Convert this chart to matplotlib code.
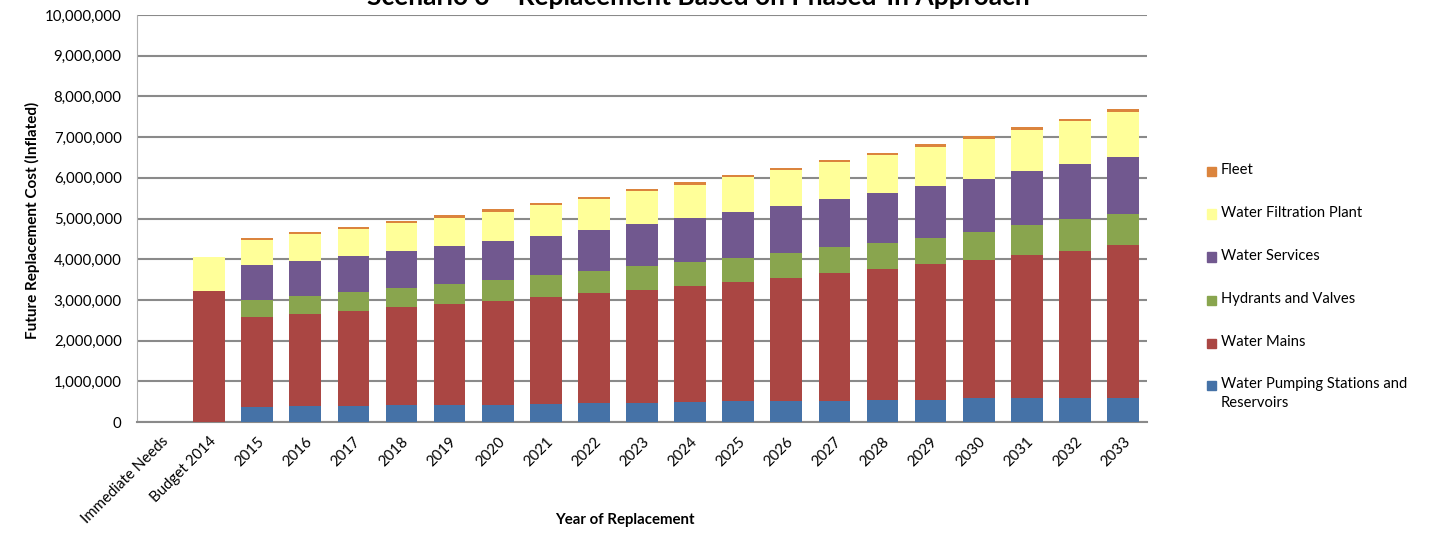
import matplotlib.pyplot as plt
import numpy as np
from matplotlib.ticker import FuncFormatter

plt.rcParams['font.family'] = ['Lato', 'DejaVu Sans']

# Data (values in dollars)
years = ['Immediate Needs', 'Budget 2014', '2015', '2016', '2017', '2018', '2019', '2020',
         '2021', '2022', '2023', '2024', '2025', '2026', '2027', '2028', '2029', '2030',
         '2031', '2032', '2033']
pumping = [0, 0, 380000, 400000, 400000, 420000, 420000, 420000, 450000, 470000, 470000,
           480000, 510000, 510000, 510000, 550000, 550000, 580000, 600000, 600000, 600000]
mains = [0, 3210000, 2200000, 2250000, 2330000, 2410000, 2480000, 2550000, 2630000, 2700000,
         2770000, 2870000, 2940000, 3040000, 3150000, 3210000, 3340000, 3400000, 3510000,
         3610000, 3740000]
hydrants = [0, 0, 420000, 450000, 460000, 460000, 490000, 520000, 530000, 540000, 590000,
            580000, 590000, 610000, 640000, 650000, 640000, 700000, 720000, 770000, 780000]
services = [0, 0, 850000, 850000, 880000, 910000, 930000, 950000, 960000, 1010000, 1030000,
            1080000, 1110000, 1140000, 1170000, 1220000, 1270000, 1300000, 1330000, 1350000,
            1400000]
filtration = [0, 840000, 630000, 660000, 670000, 680000, 700000, 730000, 760000, 770000,
              810000, 820000, 870000, 890000, 910000, 940000, 950000, 980000, 1010000,
              1060000, 1090000]
fleet = [0, 0, 40000, 50000, 50000, 50000, 60000, 60000, 50000, 50000, 60000, 60000, 50000,
         60000, 50000, 50000, 70000, 70000, 80000, 60000, 70000]

series = [
    ('Water Pumping Stations and\nReservoirs', pumping, '#4572A7'),
    ('Water Mains', mains, '#AA4643'),
    ('Hydrants and Valves', hydrants, '#89A54E'),
    ('Water Services', services, '#71588F'),
    ('Water Filtration Plant', filtration, '#FFFF99'),
    ('Fleet', fleet, '#DB843D'),
]

W, H = 1434, 533
fig = plt.figure(figsize=(W / 100, H / 100), dpi=100)
ax = fig.add_axes([137 / W, 1 - 422 / H, (1147 - 137) / W, (422 - 15) / H])

x = np.arange(len(years))
bottom = np.zeros(len(years))
for name, vals, color in series:
    ax.bar(x, vals, 0.66, bottom=bottom, color=color, linewidth=0, zorder=3)
    bottom += np.array(vals)

ax.set_xlim(-0.5, len(years) - 0.5)
ax.set_ylim(0, 10000000)
ax.set_yticks(np.arange(0, 10000001, 1000000))
ax.yaxis.set_major_formatter(FuncFormatter(lambda v, p: f'{v:,.0f}'))
ax.grid(axis='y', color='#8a8a8a', linewidth=1.5, zorder=0)
ax.set_xticks(x)
ax.set_xticklabels(years, rotation=45, ha='right', rotation_mode='anchor', fontsize=10.8)
ax.tick_params(axis='x', length=0, pad=9)
ax.tick_params(axis='y', length=0, pad=11, labelsize=10.8)
for s in ['top', 'right']:
    ax.spines[s].set_visible(False)
ax.spines['left'].set_color('#b0b0b0')
ax.spines['bottom'].set_color('#8a8a8a')
ax.spines['bottom'].set_linewidth(1.5)

fig.text(698 / W, 1 - 5 / H, 'Scenario 3 \u2013 Replacement Based on Phased-In Approach',
         ha='center', va='baseline', fontsize=19, fontweight='bold')
fig.text(32 / W, 1 - 220 / H, 'Future Replacement Cost (Inflated)', rotation=90,
         ha='center', va='center', fontsize=11, fontweight='bold')
fig.text(625 / W, 1 - 520 / H, 'Year of Replacement', ha='center', va='center',
         fontsize=10.8, fontweight='bold')

# legend, Fleet on top
rows = [171, 214, 257, 300, 343, 385]
for (name, vals, color), yc in zip(series[::-1], rows):
    fig.patches.append(plt.Rectangle((1207 / W, 1 - (yc + 4.5) / H), 9 / W, 9 / H,
                                     transform=fig.transFigure, color=color))
    fig.text(1221 / W, 1 - (yc - 8) / H, name, ha='left', va='top', fontsize=10.6,
             linespacing=1.45)

fig.savefig('out.png', dpi=100)
